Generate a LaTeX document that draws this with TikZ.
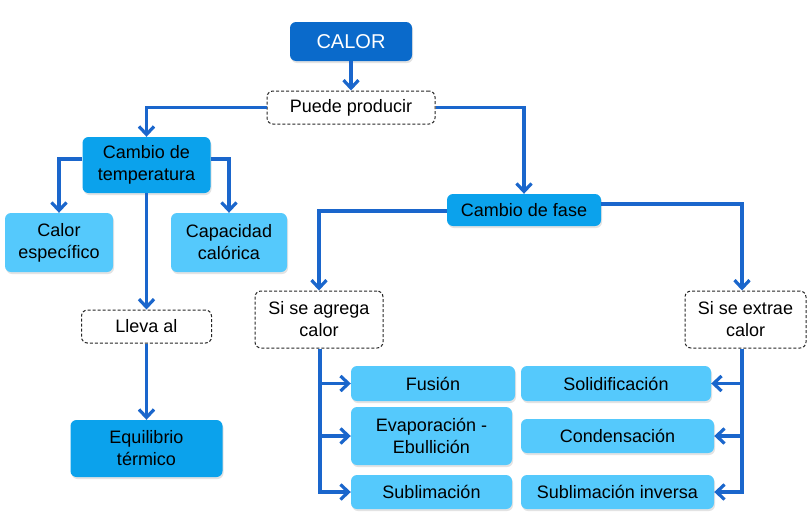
\documentclass[tikz,border=0pt]{standalone}
\usepackage{fontspec}
\setmainfont{Liberation Sans}
\usetikzlibrary{arrows.meta,shadows}
\definecolor{darkb}{HTML}{0A6ACB}
\definecolor{midb}{HTML}{0BA2EC}
\definecolor{lightb}{HTML}{55C9FC}
\definecolor{linec}{HTML}{1A66CC}
\tikzset{
  box/.style={rounded corners=6pt, align=center, inner sep=0pt,
    font=\fontsize{18}{22}\selectfont,
    drop shadow={opacity=0.22,shadow xshift=1pt,shadow yshift=-2pt}},
  dbox/.style={box, fill=darkb, text=white, font=\fontsize{20}{22}\selectfont},
  mbox/.style={box, fill=midb},
  lbox/.style={box, fill=lightb},
  dashbox/.style={rounded corners=6pt, align=center, inner sep=0pt, draw=black!85,
    dash pattern=on 3pt off 2pt, line width=1pt, fill=white, font=\fontsize{18}{22}\selectfont},
  conn/.style={draw=linec, line width=3.2pt},
  arr/.style={conn, -{Straight Barb[length=8pt,width=15pt]}},
}
\begin{document}
\begin{tikzpicture}[x=1pt,y=-1pt]
\path[use as bounding box, fill=white] (0,0) rectangle (808,517);
% nodes
\node[dbox, minimum width=122pt, minimum height=39pt] (calor) at (351,41.5) {CALOR};
\node[dashbox, minimum width=168pt, minimum height=33pt] (puede) at (351,107.5) {Puede producir};
\node[mbox, minimum width=128pt, minimum height=56pt] (temp) at (146.5,165) {Cambio de\\temperatura};
\node[lbox, minimum width=108pt, minimum height=59pt] (calesp) at (59,242.5) {Calor\\específico};
\node[lbox, minimum width=116pt, minimum height=59pt] (capcal) at (229,242.5) {Capacidad\\calórica};
\node[dashbox, minimum width=130pt, minimum height=33pt] (lleva) at (146.5,326.5) {Lleva al};
\node[mbox, minimum width=152pt, minimum height=57pt] (equil) at (146.5,448.5) {Equilibrio\\térmico};
\node[mbox, minimum width=154pt, minimum height=32pt] (fase) at (524,210) {Cambio de fase};
\node[dashbox, minimum width=128pt, minimum height=57pt] (agrega) at (319,319.5) {Si se agrega\\calor};
\node[dashbox, minimum width=121pt, minimum height=57pt] (extrae) at (745.5,319.5) {Si se extrae\\calor};
\node[lbox, minimum width=164pt, minimum height=35pt] (fusion) at (433,383.5) {Fusión};
\node[lbox, minimum width=161pt, minimum height=58pt] (evap) at (431.5,436) {Evaporación -\\Ebullición};
\node[lbox, minimum width=161pt, minimum height=34pt] (subl) at (431.5,492) {Sublimación};
\node[lbox, minimum width=190pt, minimum height=35pt] (solid) at (616,383.5) {Solidificación};
\node[lbox, minimum width=193pt, minimum height=34pt] (cond) at (617.5,436) {Condensación};
\node[lbox, minimum width=193pt, minimum height=34pt] (sinv) at (617.5,492) {Sublimación inversa};
% helper coordinates
\coordinate (ytemp) at (0,159);
\coordinate (yfl) at (0,211);
\coordinate (yfr) at (0,204);
\coordinate (xl) at (320,0);
\coordinate (xr) at (742,0);
% connectors
\draw[arr] (calor.south) -- (puede.north);
\draw[arr] (puede.west) -| (temp.north);
\draw[arr] (puede.east) -| (fase.north);
\draw[arr] (temp.west |- ytemp) -| (calesp.north);
\draw[arr] (temp.east |- ytemp) -| (capcal.north);
\draw[arr] (temp.south) -- (lleva.north);
\draw[arr] (lleva.south) -- (equil.north);
\draw[arr] (fase.west |- yfl) -| (agrega.north);
\draw[arr] (fase.east |- yfr) -| (xr |- extrae.north);
\draw[arr] (xl |- agrega.south) |- (subl.west);
\draw[arr] (xl |- fusion.west) -- (fusion.west);
\draw[arr] (xl |- evap.west) -- (evap.west);
\draw[arr] (xr |- extrae.south) |- (sinv.east);
\draw[arr] (xr |- solid.east) -- (solid.east);
\draw[arr] (xr |- cond.east) -- (cond.east);
\end{tikzpicture}
\end{document}
